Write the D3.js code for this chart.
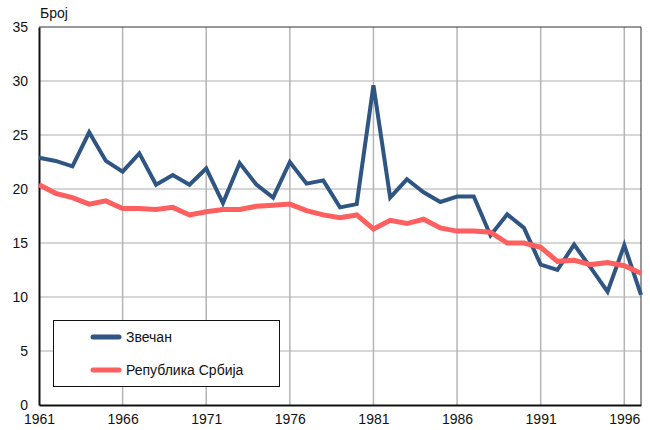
<!DOCTYPE html>
<html>
<head>
<meta charset="utf-8">
<script src="https://cdn.jsdelivr.net/npm/d3@7"></script>
<style>
  body { margin: 0; background: #fff; }
  svg text { font-family: "Liberation Sans", Arial, sans-serif; }
</style>
</head>
<body>
<script>
// data
const years = d3.range(1961, 1998);
const zvecan = [22.9, 22.6, 22.1, 25.25, 22.6, 21.6, 23.3, 20.4, 21.3, 20.4,
  21.9, 18.7, 22.4, 20.4, 19.2, 22.5, 20.5, 20.8, 18.3, 18.6,
  29.6, 19.2, 20.9, 19.7, 18.8, 19.3, 19.3, 15.7, 17.65, 16.4,
  13.0, 12.5, 14.85, 12.7, 10.5, 14.8, 10.2];
const srbija = [20.4, 19.6, 19.2, 18.6, 18.9, 18.2, 18.2, 18.1, 18.3, 17.6,
  17.9, 18.1, 18.1, 18.4, 18.5, 18.6, 18.0, 17.6, 17.35, 17.6,
  16.3, 17.1, 16.8, 17.2, 16.4, 16.1, 16.1, 16.0, 15.0, 15.0,
  14.6, 13.3, 13.4, 13.0, 13.2, 12.9, 12.2];
const xTicks = [1961, 1966, 1971, 1976, 1981, 1986, 1991, 1996];
const yTicks = [0, 5, 10, 15, 20, 25, 30, 35];
const seriesNames = ["Звечан", "Република Србија"];
const colors = ["#2f5583", "#ff5f5f"];

const W = 650, H = 430;
const m = { left: 39, right: 9, top: 27, bottom: 25 };

const svg = d3.select("body").append("svg")
  .attr("width", W)
  .attr("height", H);

const x = d3.scaleLinear().domain([1961, 1997]).range([m.left, W - m.right]);
const y = d3.scaleLinear().domain([0, 35]).range([H - m.bottom, m.top]);

// grid
svg.append("g")
  .selectAll("line.h")
  .data(yTicks.slice(1, -1))
  .join("line")
  .attr("x1", m.left).attr("x2", W - m.right)
  .attr("y1", d => y(d)).attr("y2", d => y(d))
  .attr("stroke", "#c8c8c8").attr("stroke-width", 1.5);

svg.append("g")
  .selectAll("line.v")
  .data(xTicks.slice(1))
  .join("line")
  .attr("x1", d => x(d)).attr("x2", d => x(d))
  .attr("y1", m.top).attr("y2", H - m.bottom)
  .attr("stroke", "#b4b4b4").attr("stroke-width", 1.5);

// frame top / right
svg.append("path")
  .attr("d", `M${m.left},${m.top}H${W - m.right}V${H - m.bottom}`)
  .attr("fill", "none")
  .attr("stroke", "#333").attr("stroke-width", 1);

// axes
const xAxis = svg.append("g")
  .attr("transform", `translate(0,${H - m.bottom})`)
  .call(d3.axisBottom(x).tickValues(xTicks).tickFormat(d3.format("d")).tickSize(0).tickPadding(9));
const yAxis = svg.append("g")
  .attr("transform", `translate(${m.left},0)`)
  .call(d3.axisLeft(y).tickValues(yTicks).tickSize(0).tickPadding(11));

[xAxis, yAxis].forEach(g => {
  g.select(".domain").attr("stroke", "#111").attr("stroke-width", 2);
  g.selectAll("text").attr("font-size", 14).attr("fill", "#111")
    .style("font-family", "'Liberation Sans', Arial, sans-serif");
});
yAxis.selectAll("text").attr("dy", "0.35em");

svg.append("text")
  .attr("x", 40).attr("y", 18)
  .attr("font-size", 14).attr("fill", "#111")
  .text("Број");

// lines
const line = d3.line().x((d, i) => x(years[i])).y(d => y(d));
[zvecan, srbija].forEach((s, k) => {
  svg.append("path")
    .datum(s)
    .attr("d", line)
    .attr("fill", "none")
    .attr("stroke", colors[k])
    .attr("stroke-width", k === 0 ? 4 : 5)
    .attr("stroke-linejoin", "miter");
});

// legend
const lg = svg.append("g");
lg.append("rect")
  .attr("x", 53.5).attr("y", 320.5)
  .attr("width", 226).attr("height", 66)
  .attr("fill", "#fff").attr("stroke", "#111").attr("stroke-width", 1);
seriesNames.forEach((name, k) => {
  const ly = 337 + k * 33;
  lg.append("line")
    .attr("x1", 93).attr("x2", 119)
    .attr("y1", ly).attr("y2", ly)
    .attr("stroke", colors[k]).attr("stroke-width", 5)
    .attr("stroke-linecap", "round");
  lg.append("text")
    .attr("x", 126).attr("y", ly + 5)
    .attr("font-size", 14).attr("fill", "#111")
    .text(name);
});
</script>
</body>
</html>
